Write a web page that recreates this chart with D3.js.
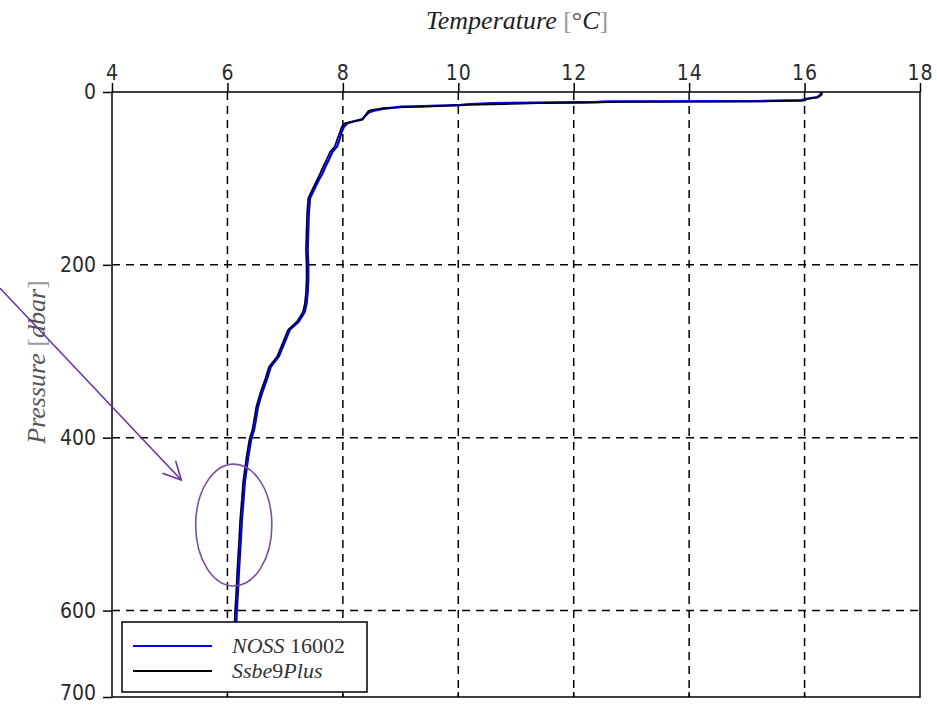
<!DOCTYPE html>
<html>
<head>
<meta charset="utf-8">
<script src="https://cdn.jsdelivr.net/npm/d3@7"></script>
<style>
  body { margin: 0; background: #fff; }
</style>
</head>
<body>
<div id="chart"></div>
<script>
const tempTicks = [4, 6, 8, 10, 12, 14, 16, 18];
const presTicks = [0, 200, 400, 600, 700];
const tempGrid = [6, 8, 10, 12, 14, 16];
const presGrid = [200, 400, 600];

// NOSS 16002 (blue)
const nossP = [0, 3, 6, 8, 9.5, 10, 10.5, 11, 11.5, 12.5, 13, 14, 15, 16.5, 17, 19.5, 21.5, 23.5, 27.5, 31.5, 34,
    36, 40, 46, 55, 63, 69, 78, 86, 95, 102, 113, 123, 140, 160, 183, 200, 217, 232, 245, 254,
    260, 266, 275, 290, 306, 318, 331, 348, 364, 380, 391, 402, 422, 437, 452, 470, 495, 520, 553, 580,
    602, 620, 640];
const nossT = [16.28, 16.28, 16.22, 16.02, 15.95, 15.5, 15.2, 12.6, 12.4, 11.3, 10.6, 10.2, 10.05, 9.4, 9.0, 8.7, 8.54, 8.45, 8.39, 8.34, 8.19,
    8.08, 8.02, 7.98, 7.94, 7.90, 7.82, 7.76, 7.70, 7.64, 7.58, 7.50, 7.43, 7.41, 7.40, 7.39, 7.40, 7.40, 7.39, 7.37, 7.34,
    7.29, 7.23, 7.08, 6.99, 6.89, 6.75, 6.69, 6.60, 6.53, 6.49, 6.46, 6.41, 6.36, 6.33, 6.30, 6.28, 6.25, 6.23, 6.20, 6.18,
    6.16, 6.15, 6.14];

// Ssbe9Plus (black)
const ssbeP = [0, 3, 6, 8, 10, 11, 11.5, 12.5, 13, 14, 15, 17, 18.5, 21, 22, 24, 28, 32, 35, 36,
    40, 46, 55, 63, 69, 78, 86, 95, 102, 113, 123, 140, 160, 183, 200, 217, 232, 245, 254, 260,
    266, 275, 290, 306, 318, 331, 348, 364, 380, 391, 402, 422, 437, 452, 470, 495, 520, 553, 580, 602,
    620, 640];
const ssbeT = [16.30, 16.30, 16.24, 16.05, 16.00, 15.2, 12.8, 12.2, 11.4, 10.8, 10.15, 9.34, 8.7, 8.47, 8.44, 8.42, 8.38, 8.33, 8.12, 8.04,
    7.98, 7.95, 7.90, 7.86, 7.78, 7.72, 7.66, 7.60, 7.55, 7.47, 7.40, 7.38, 7.37, 7.36, 7.37, 7.37, 7.36, 7.34, 7.31, 7.26,
    7.20, 7.05, 6.96, 6.86, 6.72, 6.66, 6.57, 6.50, 6.46, 6.43, 6.38, 6.33, 6.30, 6.27, 6.25, 6.22, 6.20, 6.17, 6.15, 6.13,
    6.12, 6.11];

// hand-drawn annotation, in data units (temperature, pressure)
const markCentre = [6.11, 501];
const markRadii = [0.66, 70.5];
const arrowFrom = [2.06, 227];
const arrowTo = [5.2, 449];

const width = 937;
const height = 707;
const margin = { top: 92, right: 17, bottom: 10, left: 112 };

const svg = d3.select("#chart")
    .append("svg")
    .attr("width", width)
    .attr("height", height);

const x = d3.scaleLinear()
    .domain([4, 18])
    .range([margin.left, width - margin.right]);

const y = d3.scaleLinear()
    .domain([0, 700])
    .range([margin.top, height - margin.bottom]);

// grid
svg.append("g")
    .selectAll("line")
    .data(tempGrid)
    .enter().append("line")
    .attr("x1", d => x(d)).attr("x2", d => x(d))
    .attr("y1", y(0)).attr("y2", y(700))
    .attr("stroke", "#000")
    .attr("stroke-width", 1.5)
    .attr("stroke-dasharray", "8,6");

svg.append("g")
    .selectAll("line")
    .data(presGrid)
    .enter().append("line")
    .attr("x1", x(4)).attr("x2", x(18))
    .attr("y1", d => y(d)).attr("y2", d => y(d))
    .attr("stroke", "#000")
    .attr("stroke-width", 1.5)
    .attr("stroke-dasharray", "8,6");

// profiles
const line = d3.line()
    .x(d => x(d[1]))
    .y(d => y(d[0]));

svg.append("path")
    .datum(d3.zip(nossP, nossT))
    .attr("fill", "none")
    .attr("stroke", "#0000ee")
    .attr("stroke-width", 2.4)
    .attr("d", line);

svg.append("path")
    .datum(d3.zip(ssbeP, ssbeT))
    .attr("fill", "none")
    .attr("stroke", "#000")
    .attr("stroke-width", 1.6)
    .attr("d", line);

// frame
svg.append("rect")
    .attr("x", x(4)).attr("y", y(0))
    .attr("width", x(18) - x(4))
    .attr("height", y(700) - y(0))
    .attr("fill", "none")
    .attr("stroke", "#000")
    .attr("stroke-width", 1.5);

// bottom inner ticks
svg.append("g")
    .selectAll("line")
    .data(tempGrid)
    .enter().append("line")
    .attr("x1", d => x(d)).attr("x2", d => x(d))
    .attr("y1", y(700)).attr("y2", y(700) - 5)
    .attr("stroke", "#000")
    .attr("stroke-width", 1.5);

const xAxis = svg.append("g")
    .attr("transform", `translate(0,${y(0)})`)
    .call(d3.axisTop(x).tickValues(tempTicks).tickSize(9).tickPadding(3));

const yAxis = svg.append("g")
    .attr("transform", `translate(${x(4)},0)`)
    .call(d3.axisLeft(y).tickValues(presTicks).tickSize(9).tickPadding(7));

[xAxis, yAxis].forEach(g => {
    g.select(".domain").remove();
    g.selectAll(".tick line").attr("stroke", "#000").attr("stroke-width", 1.5);
    g.selectAll(".tick text")
        .attr("fill", "#2a2a2a")
        .style("font-family", "'DejaVu Sans Condensed', 'DejaVu Sans', sans-serif")
        .style("font-stretch", "condensed")
        .style("font-size", "21px");
});
xAxis.selectAll(".tick text").attr("letter-spacing", "1px");
// keep the bottom label inside the page
yAxis.selectAll(".tick text").filter(d => d === 700).attr("dy", "0.12em");

// axis titles
function mathLabel(g, parts) {
    parts.forEach(p => {
        g.append("tspan")
            .attr("fill", p.c || "#222")
            .style("font-style", p.i ? "italic" : "normal")
            .text(p.t);
    });
}

const title = svg.append("text")
    .attr("x", 517)
    .attr("y", 29)
    .attr("text-anchor", "middle")
    .style("font-family", "Liberation Serif, serif")
    .style("font-size", "26px");
mathLabel(title, [
    { t: "Temperature ", i: true },
    { t: "[", c: "#999" },
    { t: "°", c: "#555" },
    { t: "C", i: true },
    { t: "]", c: "#999" }
]);

const ylab = svg.append("text")
    .attr("transform", "translate(45,362) rotate(-90)")
    .attr("text-anchor", "middle")
    .style("font-family", "Liberation Serif, serif")
    .style("font-size", "26px");
mathLabel(ylab, [
    { t: "Pressure ", i: true, c: "#555" },
    { t: "[", c: "#999" },
    { t: "dbar", i: true, c: "#555" },
    { t: "]", c: "#999" }
]);

// legend
const legend = svg.append("g");
legend.append("rect")
    .attr("x", 122).attr("y", 622)
    .attr("width", 245).attr("height", 70)
    .attr("fill", "#fff")
    .attr("stroke", "#000")
    .attr("stroke-width", 1.5);

const legendItems = [
    { color: "#0000ee", parts: [{ t: "NOSS", i: true }, { t: " 16002" }] },
    { color: "#000", parts: [{ t: "Ssbe", i: true }, { t: "9" }, { t: "Plus", i: true }] }
];

legendItems.forEach((item, i) => {
    const yy = 646 + i * 25;
    legend.append("line")
        .attr("x1", 133).attr("x2", 212)
        .attr("y1", yy).attr("y2", yy)
        .attr("stroke", item.color)
        .attr("stroke-width", 1.8);
    const t = legend.append("text")
        .attr("x", 232)
        .attr("y", yy + 7)
        .style("font-family", "Liberation Serif, serif")
        .style("font-size", "22px");
    mathLabel(t, item.parts.map(p => Object.assign({ c: "#333" }, p)));
});

// annotation: ellipse and arrow
const purple = "#7a4fa3";
svg.append("ellipse")
    .attr("cx", x(markCentre[0]))
    .attr("cy", y(markCentre[1]))
    .attr("rx", x(markCentre[0] + markRadii[0]) - x(markCentre[0]))
    .attr("ry", y(markCentre[1] + markRadii[1]) - y(markCentre[1]))
    .attr("fill", "none")
    .attr("stroke", purple)
    .attr("stroke-width", 1.6);

const ax0 = x(arrowFrom[0]), ay0 = y(arrowFrom[1]);
const ax1 = x(arrowTo[0]), ay1 = y(arrowTo[1]);
const ang = Math.atan2(ay0 - ay1, ax0 - ax1);
const barb = 20, spread = 27 * Math.PI / 180;

const arrow = svg.append("g")
    .attr("stroke", "#6a2fa8")
    .attr("stroke-width", 1.6)
    .attr("fill", "none");
arrow.append("line")
    .attr("x1", ax0).attr("y1", ay0)
    .attr("x2", ax1).attr("y2", ay1);
arrow.append("path")
    .attr("d", `M${ax1 + barb * Math.cos(ang - spread)},${ay1 + barb * Math.sin(ang - spread)}`
        + `L${ax1},${ay1}`
        + `L${ax1 + barb * Math.cos(ang + spread)},${ay1 + barb * Math.sin(ang + spread)}`);
</script>
</body>
</html>
